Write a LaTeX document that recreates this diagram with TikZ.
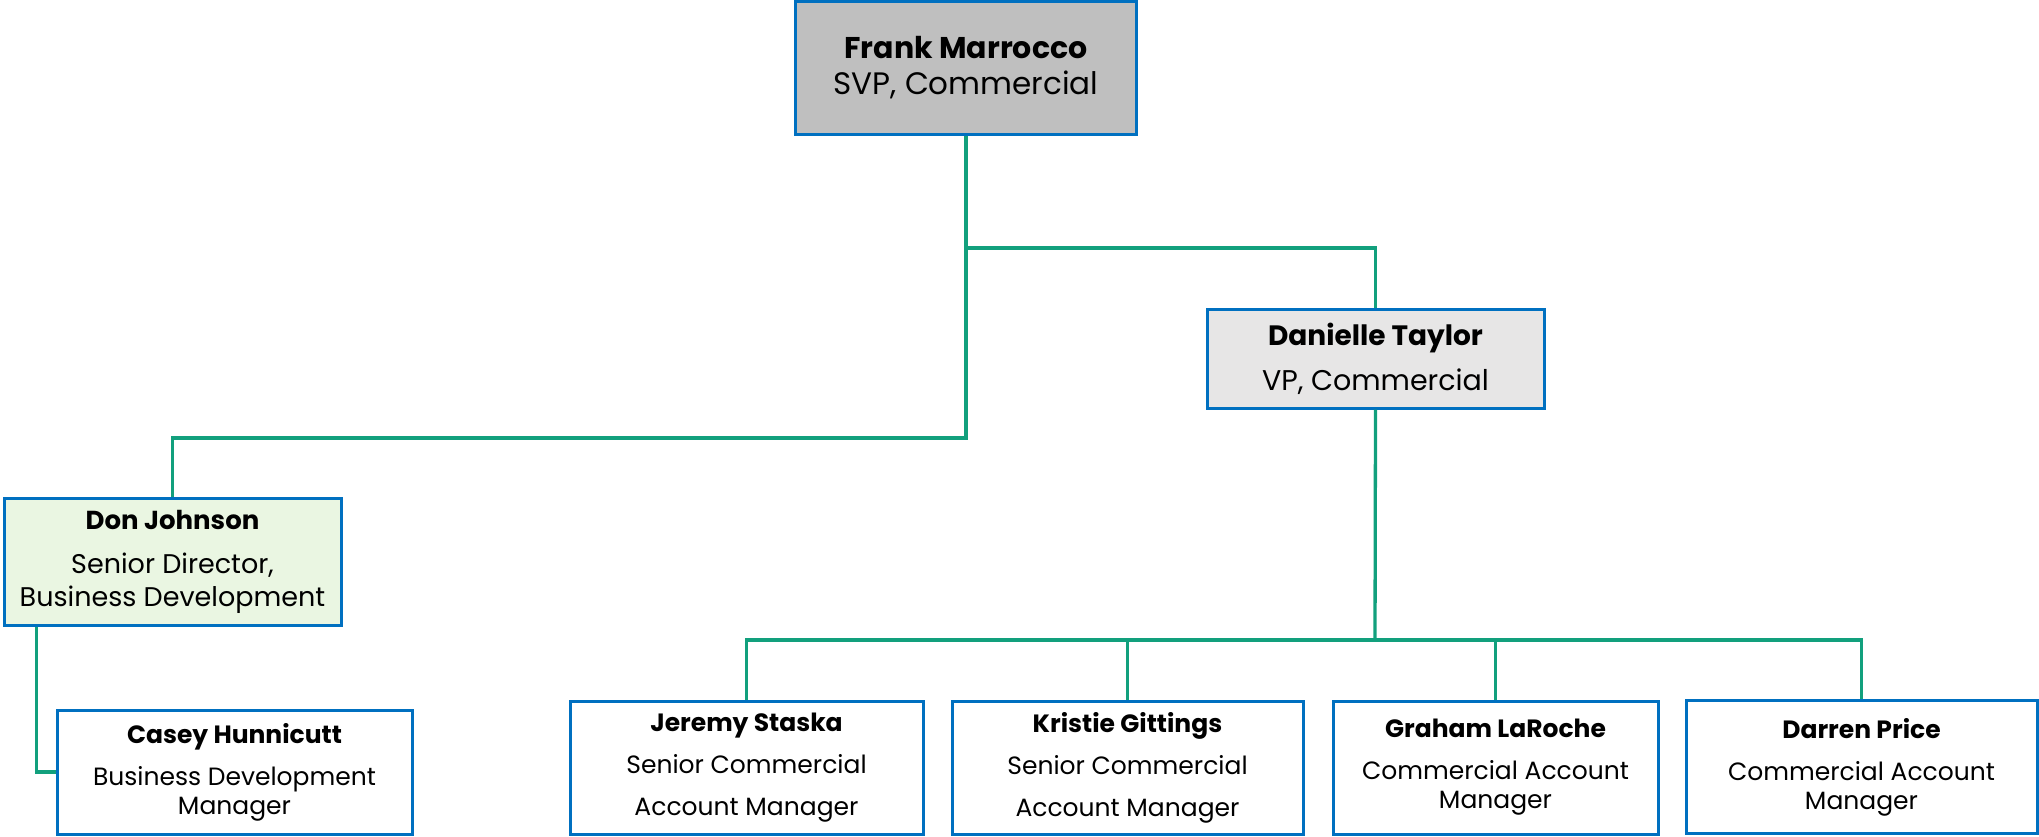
\documentclass[tikz,border=0pt]{standalone}
\usepackage{fontspec}
\setmainfont{Poppins}
\usepackage{tikz}
\definecolor{boxblue}{RGB}{0,112,192}
\definecolor{linegreen}{RGB}{18,160,125}
\definecolor{topgray}{RGB}{191,191,191}
\definecolor{vpgray}{RGB}{231,230,230}
\definecolor{bdgreen}{RGB}{234,246,226}

\begin{document}
\begin{tikzpicture}
[x=1pt,y=-1pt,
  nodedecorate/.style={shape=rectangle,draw=boxblue,line width=3pt,align=center,inner sep=0pt,
    font=\fontsize{25}{29}\selectfont},%
  linedecorate/.style={-,draw=linegreen,line width=3.3pt}]
\useasboundingbox (0,0) rectangle (2039,836);
%% boxes
\node (frank) at (966,67.5) [nodedecorate,fill=topgray,minimum width=341pt,minimum height=133pt,
  font=\fontsize{31}{36}\selectfont] {\textbf{\fontsize{30}{36}\selectfont Frank Marrocco}\\SVP, Commercial};
\node (danielle) at (1375.5,358.5) [nodedecorate,fill=vpgray,minimum width=337pt,minimum height=99pt,
  font=\fontsize{28.5}{36}\selectfont] {\textbf{\fontsize{28}{36}\selectfont Danielle Taylor}\\[9pt]VP, Commercial};
\node (don) at (172.5,561.5) [nodedecorate,fill=bdgreen,minimum width=337pt,minimum height=127pt,
  font=\fontsize{27}{33}\selectfont] {\textbf{\fontsize{26}{33}\selectfont Don Johnson}\\[11pt]Senior Director,\\Business Development};
\node (casey) at (234.5,772) [nodedecorate,fill=white,minimum width=355pt,minimum height=124pt]
  {\textbf{Casey Hunnicutt}\\[13pt]Business Development\\Manager};
\foreach \nodename/\x/\y/\w/\who/\job in {jeremy/746.5/767.5/353/Jeremy Staska/{Senior Commercial\\[13pt]Account Manager},
  kristie/1127.5/768/351/Kristie Gittings/{Senior Commercial\\[13pt]Account Manager},
  graham/1495.5/767.5/325/Graham LaRoche/{Commercial Account\\Manager},
  darren/1861.5/767/351/Darren Price/{Commercial Account\\Manager}}
{
  \node (\nodename) at (\x,\y) [nodedecorate,fill=white,minimum width=\w pt,minimum height=133pt]
    {\textbf{\who}\\[13pt]\job};
}
%% lines
\coordinate (frankbus) at (966,248);
\coordinate (donbus) at (966,438);
\coordinate (repbus) at (1375,640);
\draw[linedecorate] (frank.south) -- (donbus) -| (don.north);
\draw[linedecorate] (frankbus) -| (danielle.north);
\draw[linedecorate] ([xshift=34pt]don.south west) |- (casey.west);
\draw[linedecorate] (danielle.south) -- (repbus);
\foreach \rep in {jeremy,kristie,graham,darren}
{
  \draw[linedecorate] (repbus) -| (\rep.north);
};
\end{tikzpicture}
\end{document}
